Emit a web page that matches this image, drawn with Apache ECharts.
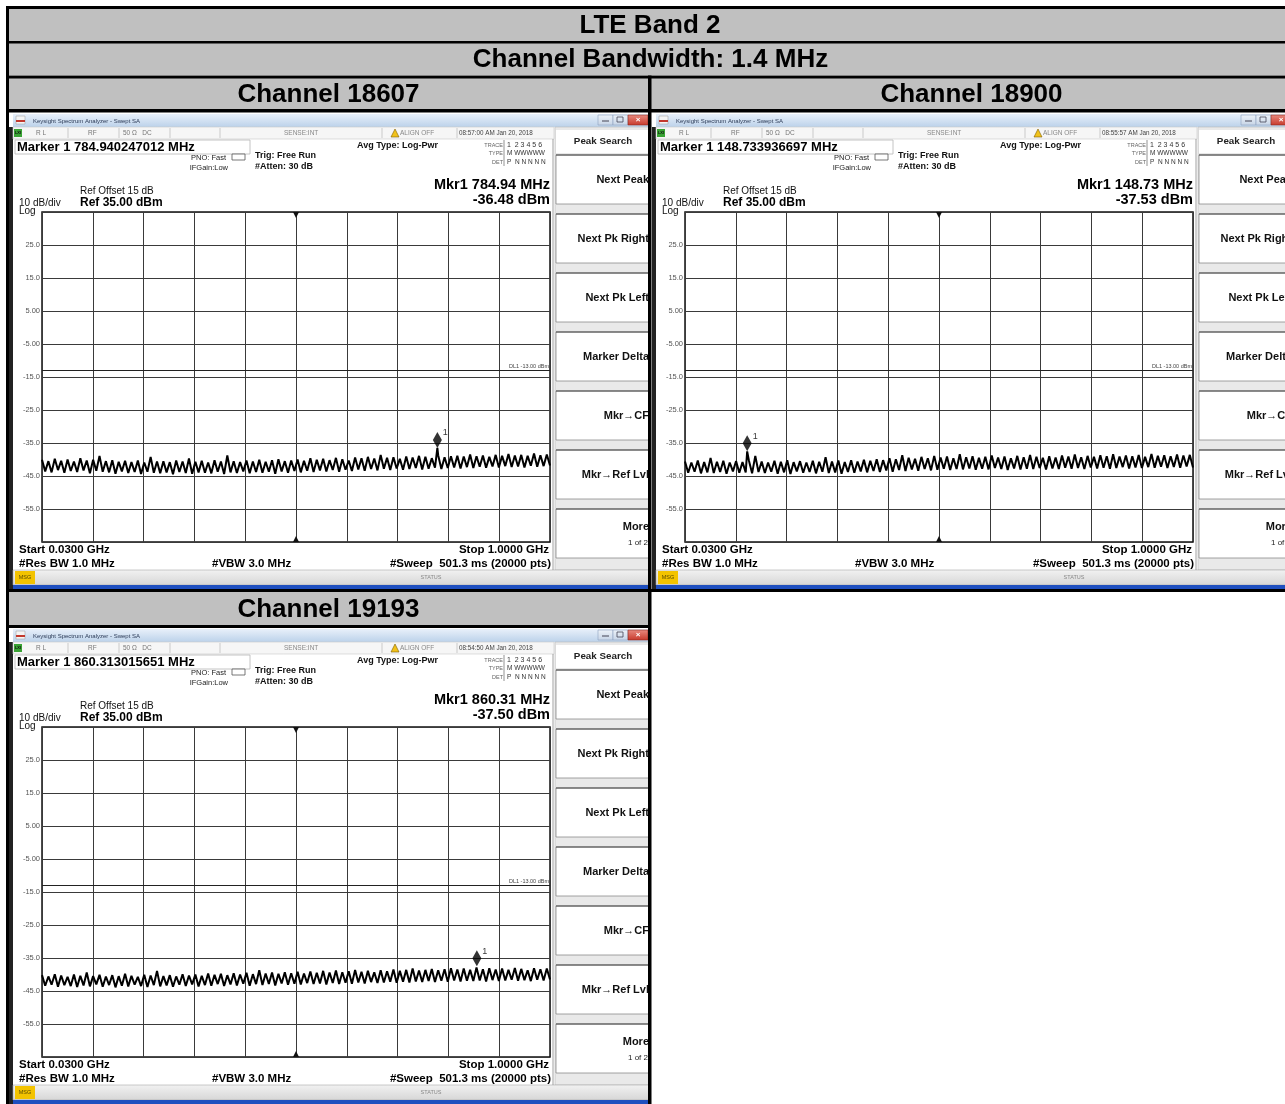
<!DOCTYPE html>
<html><head><meta charset="utf-8">
<script src="https://cdn.jsdelivr.net/npm/echarts@6/dist/echarts.min.js"></script>
<style>html,body{margin:0;padding:0;background:#fff}#c{width:1285px;height:1104px}</style>
</head><body><div id="c"></div><script>
// ---------------- data ----------------
const TITLE = 'LTE Band 2';
const SUBTITLE = 'Channel Bandwidth: 1.4 MHz';
const CHANNELS = ['18607', '18900', '19193'];
const F_START = 30, F_STOP = 1000;          // MHz
const REF = 35, DB_PER_DIV = 10, DIVS = 10; // dBm
const DISPLAY_LINE = -13.00;                // dBm
const Y_TICKS = ['25.0', '15.0', '5.00', '-5.00', '-15.0', '-25.0', '-35.0', '-45.0', '-55.0'];
const MKR_FREQ = [784.940247012, 148.733936697, 860.313015651];  // MHz
const MKR_LEVEL = [-36.48, -37.53, -37.50];                        // dBm
const TIMESTAMPS = ['08:57:00 AM Jan 20, 2018', '08:55:57 AM Jan 20, 2018', '08:54:50 AM Jan 20, 2018'];
const SOFTKEYS = ['Next Peak', 'Next Pk Right', 'Next Pk Left', 'Marker Delta', 'Mkr\u2192CF', 'Mkr\u2192Ref Lvl'];

const TRACE_18607 = [
 -40.1,-43.6,-40.5,-43.9,-39.8,-43.2,-40.4,-44.0,-40.0,-43.5,
 -40.6,-43.8,-39.6,-43.3,-40.3,-44.2,-40.1,-43.4,-38.9,-43.7,
 -40.5,-43.9,-40.2,-44.3,-40.7,-43.6,-40.4,-44.1,-40.8,-43.8,
 -40.3,-44.4,-40.9,-43.7,-39.2,-44.0,-40.6,-44.2,-40.5,-43.9,
 -40.8,-44.5,-40.3,-43.8,-40.6,-44.1,-39.7,-44.3,-40.7,-43.9,
 -40.4,-44.0,-40.9,-44.2,-40.2,-43.7,-40.6,-44.4,-38.8,-43.9,
 -40.5,-44.1,-40.8,-43.6,-40.3,-44.2,-40.6,-43.8,-40.1,-44.0,
 -40.7,-43.7,-40.2,-44.3,-39.9,-43.6,-40.5,-44.0,-40.3,-43.5,
 -40.0,-43.9,-40.4,-43.4,-39.6,-43.8,-40.1,-43.3,-39.8,-43.6,
 -40.2,-43.2,-39.5,-43.7,-39.9,-43.1,-40.3,-43.5,-39.4,-43.0,
 -39.6,-43.4,-39.2,-42.9,-39.7,-43.3,-38.6,-42.8,-39.5,-43.2,
 -39.3,-42.7,-39.8,-43.1,-39.1,-42.9,-39.4,-42.6,-38.9,-43.0,
 -39.2,-42.8,-39.6,-42.5,-38.7,-42.9,-39.3,-42.6,-39.0,-42.4,
 -38.9,-42.7,-39.1,-42.3,-38.5,-42.6,-39.0,-42.2,-38.8,-42.5,
 -39.2,-42.1,-38.6,-42.4,-38.9,-42.0,-38.3,-42.3,-38.8,-42.1,
 -38.6,-42.4,-38.9,-41.9,-38.2,-42.2,-38.7,-42.0,-38.5,-41.8
];
const TRACE_18900 = [
 -40.6,-44.0,-40.9,-43.7,-40.3,-44.2,-40.8,-43.9,-39.5,-44.1,
 -40.7,-43.8,-40.4,-44.3,-40.9,-43.6,-40.5,-44.0,-40.8,-43.9,
 -40.3,-44.2,-38.9,-43.8,-40.6,-44.1,-40.9,-43.7,-40.4,-44.3,
 -40.7,-43.9,-40.2,-44.4,-40.8,-43.6,-40.5,-44.0,-40.9,-43.8,
 -40.4,-44.2,-40.7,-43.7,-39.3,-44.1,-40.6,-43.9,-40.3,-44.3,
 -40.8,-43.8,-40.2,-44.0,-40.6,-43.6,-40.1,-43.9,-40.4,-43.5,
 -39.9,-43.8,-40.2,-43.3,-39.6,-43.7,-39.9,-43.2,-38.7,-43.5,
 -39.5,-43.0,-39.8,-43.4,-39.2,-42.9,-39.6,-43.3,-38.9,-43.1,
 -39.4,-42.8,-39.1,-43.2,-39.6,-42.9,-38.4,-43.0,-39.3,-42.7,
 -39.0,-43.1,-39.5,-42.8,-39.2,-43.0,-38.8,-42.6,-39.4,-42.9,
 -39.1,-43.2,-39.6,-42.7,-38.9,-43.0,-39.3,-42.8,-38.6,-42.9,
 -39.2,-42.6,-39.5,-43.0,-39.0,-42.7,-39.4,-42.9,-38.8,-42.5,
 -39.1,-42.8,-38.5,-42.6,-39.3,-42.9,-38.9,-42.4,-39.2,-42.7,
 -38.7,-42.5,-39.0,-42.8,-38.4,-42.6,-39.1,-42.3,-38.8,-42.7,
 -39.0,-42.4,-38.6,-42.6,-39.2,-42.3,-38.3,-42.5,-38.9,-42.2,
 -38.7,-42.6,-39.0,-42.3,-38.5,-42.5,-38.8,-42.1,-38.6,-42.4
];
const TRACE_19193 = [
 -40.2,-43.4,-40.6,-43.1,-39.9,-43.7,-40.3,-43.2,-40.7,-43.5,
 -40.0,-43.8,-40.4,-43.3,-39.4,-43.6,-40.5,-43.0,-40.1,-43.7,
 -40.6,-43.2,-40.2,-43.9,-40.5,-43.4,-39.8,-43.6,-40.4,-43.1,
 -40.7,-43.5,-40.1,-43.8,-40.3,-43.2,-38.9,-43.6,-40.5,-43.3,
 -40.2,-43.7,-40.6,-43.1,-39.9,-43.5,-40.3,-43.0,-40.0,-43.6,
 -40.4,-43.2,-39.7,-43.4,-40.1,-42.9,-39.8,-43.5,-40.2,-43.0,
 -39.6,-43.3,-40.0,-42.8,-39.5,-43.4,-39.9,-42.9,-38.7,-43.2,
 -39.7,-42.9,-39.4,-43.3,-39.8,-42.7,-39.3,-43.1,-39.6,-42.8,
 -39.2,-43.0,-39.7,-42.6,-39.1,-42.9,-39.5,-42.7,-38.9,-43.0,
 -39.4,-42.6,-38.8,-42.9,-39.3,-42.5,-39.0,-42.8,-38.6,-42.4,
 -39.2,-42.7,-38.9,-42.3,-39.3,-42.6,-38.7,-42.4,-39.0,-42.2,
 -38.5,-42.5,-38.9,-42.2,-38.6,-42.4,-38.2,-42.1,-38.8,-42.3,
 -38.6,-42.0,-38.3,-42.3,-38.7,-41.9,-38.4,-42.2,-38.1,-41.8,
 -38.5,-42.1,-38.2,-41.9,-38.6,-42.0,-37.9,-41.8,-38.4,-42.1,
 -38.1,-41.7,-38.5,-42.0,-38.2,-41.8,-38.6,-41.6,-38.0,-41.9,
 -38.3,-41.7,-38.7,-42.0,-38.1,-41.6,-38.4,-41.8,-38.2,-41.5
];
const TRACES = [TRACE_18607, TRACE_18900, TRACE_19193];

// ---------------- helpers ----------------
const FONT = '"Liberation Sans", Arial, Helvetica, sans-serif';
const BOTTOM = REF - DB_PER_DIV * DIVS;  // -65 dBm
const SPAN = F_STOP - F_START;
function T(x, y, text, size, o) {
  o = o || {};
  const al = o.align || 'left', va = o.va || 'middle';
  return {type: 'text', x: x, y: y, silent: true, z: o.z || 20,
    style: {text: text, fill: o.color || '#000', font: (o.bold ? 'bold ' : '') + size + 'px ' + FONT,
      textAlign: al, textVerticalAlign: va, align: al, verticalAlign: va}};
}
function R(x, y, w, h, fill, stroke, lw, z) {
  return {type: 'rect', silent: true, z: z == null ? 0 : z, shape: {x: x, y: y, width: w, height: h},
    style: {fill: fill || 'none', stroke: stroke || 'none', lineWidth: lw || 0}};
}
function L(x1, y1, x2, y2, color, lw, z) {
  return {type: 'line', silent: true, z: z == null ? 1 : z, shape: {x1: x1, y1: y1, x2: x2, y2: y2},
    style: {stroke: color || '#000', lineWidth: lw || 1}};
}
function P(points, fill, stroke, z) {
  return {type: 'polygon', silent: true, z: z == null ? 5 : z, shape: {points: points},
    style: {fill: fill, stroke: stroke || 'none', lineWidth: 0.6}};
}
const vgrad = (a, b) => ({type: 'linear', x: 0, y: 0, x2: 0, y2: 1, colorStops: [{offset: 0, color: a}, {offset: 1, color: b}]});

// offsets of the three analyzer screenshots
const OFFS = [[0, 0], [643, 0], [0, 515]];

function panel(k) {
  const dx = OFFS[k][0], dy = OFFS[k][1];
  const X = v => v + dx, Y = v => v + dy;
  const g = [];
  // window frame
  g.push(R(X(9), Y(127), 4, 462, '#222', null, 0, 1));
  // title bar
  g.push(R(X(13), Y(114), 636, 13, vgrad('#e8f0fa', '#bcd2ea'), null, 0, 1));
  g.push(R(X(16), Y(116), 9, 8, '#f4f4f4', '#999', 0.5, 2));
  g.push(R(X(16), Y(120), 9, 2, '#c23a2e', null, 0, 3));
  g.push(T(X(33), Y(121), 'Keysight Spectrum Analyzer - Swept SA', 6, {color: '#2c3b57'}));
  g.push(R(X(598), Y(115), 15, 10, vgrad('#eef3f9', '#c6d4e6'), '#8ea3bf', 0.6, 2));
  g.push(L(X(602), Y(121), X(609), Y(121), '#445', 1, 3));
  g.push(R(X(613), Y(115), 15, 10, vgrad('#eef3f9', '#c6d4e6'), '#8ea3bf', 0.6, 2));
  g.push(R(X(617), Y(117), 6, 5, 'none', '#445', 0.8, 3));
  g.push(R(X(628), Y(115), 20, 10, vgrad('#e88a7f', '#c7392b'), '#8a2a20', 0.6, 2));
  g.push(T(X(638), Y(120), '\u00d7', 8, {align: 'center', color: '#fff', bold: true}));
  // status row
  g.push(R(X(13), Y(127), 541, 12, '#f6f6f6', '#c9c9c9', 0.6, 1));
  g.push(R(X(14), Y(129), 8, 8, '#39a334', null, 0, 2));
  g.push(T(X(18), Y(133), 'LXI', 4, {align: 'center', color: '#111', bold: true}));
  [68, 119, 170, 220, 382, 457].forEach(x => g.push(L(X(x), Y(128), X(x), Y(138), '#c0c0c0', 0.8, 2)));
  g.push(T(X(36), Y(133), 'R L', 6.5, {color: '#777'}));
  g.push(T(X(88), Y(133), 'RF', 6.5, {color: '#777'}));
  g.push(T(X(123), Y(133), '50 \u03a9   DC', 6.5, {color: '#777'}));
  g.push(T(X(284), Y(133), 'SENSE:INT', 6.5, {color: '#888'}));
  g.push(P([[X(391), Y(137)], [X(395), Y(129)], [X(399), Y(137)]], '#f1c21b', '#7d5c00'));
  g.push(T(X(400), Y(133), 'ALIGN OFF', 6.5, {color: '#888'}));
  g.push(T(X(459), Y(133), TIMESTAMPS[k], 6.3, {color: '#444'}));
  // marker frequency box
  g.push(R(X(15), Y(140), 235, 14, '#fff', '#b5b5b5', 0.8, 1));
  g.push(T(X(17), Y(147.5), 'Marker 1 ' + MKR_FREQ[k].toFixed(9) + ' MHz', 13, {bold: true}));
  g.push(T(X(226), Y(158), 'PNO: Fast', 7.5, {align: 'right', color: '#222'}));
  g.push(T(X(228), Y(168), 'IFGain:Low', 7.5, {align: 'right', color: '#222'}));
  g.push(R(X(232), Y(154), 13, 6, '#fff', '#555', 0.8, 2));
  g.push(T(X(255), Y(156), 'Trig: Free Run', 9, {bold: true, color: '#111'}));
  g.push(T(X(255), Y(167), '#Atten: 30 dB', 9, {bold: true, color: '#111'}));
  g.push(T(X(357), Y(146), 'Avg Type: Log-Pwr', 9, {bold: true, color: '#111'}));
  // trace table
  g.push(L(X(504), Y(140), X(504), Y(166), '#777', 0.8, 2));
  g.push(T(X(503), Y(145), 'TRACE', 5.5, {align: 'right', color: '#666'}));
  g.push(T(X(503), Y(153), 'TYPE', 5.5, {align: 'right', color: '#666'}));
  g.push(T(X(503), Y(162), 'DET', 5.5, {align: 'right', color: '#666'}));
  g.push(T(X(507), Y(145.5), '1  2 3 4 5 6', 7, {color: '#333'}));
  g.push(T(X(507), Y(153.5), 'M WWWWW', 6.5, {color: '#333'}));
  g.push(T(X(507), Y(162), 'P  N N N N N', 6.5, {color: '#333'}));
  // marker readout
  g.push(T(X(550), Y(185), 'Mkr1 ' + MKR_FREQ[k].toFixed(2) + ' MHz', 14.5, {align: 'right', bold: true}));
  g.push(T(X(550), Y(199.5), MKR_LEVEL[k].toFixed(2) + ' dBm', 14.5, {align: 'right', bold: true}));
  g.push(T(X(80), Y(191.5), 'Ref Offset 15 dB', 10, {color: '#111'}));
  g.push(T(X(80), Y(202.5), 'Ref ' + REF.toFixed(2) + ' dBm', 12, {bold: true}));
  g.push(T(X(19), Y(203.5), DB_PER_DIV + ' dB/div', 10, {color: '#111'}));
  g.push(T(X(19), Y(211), 'Log', 10, {color: '#111'}));
  // main display right border
  g.push(L(X(553), Y(139), X(553), Y(570), '#888', 0.8, 2));
  // bottom annotations
  g.push(T(X(19), Y(550), 'Start ' + (F_START / 1000).toFixed(4) + ' GHz', 11.5, {bold: true}));
  g.push(T(X(549), Y(550), 'Stop ' + (F_STOP / 1000).toFixed(4) + ' GHz', 11.5, {bold: true, align: 'right'}));
  g.push(T(X(19), Y(564), '#Res BW 1.0 MHz', 11.5, {bold: true}));
  g.push(T(X(212), Y(564), '#VBW 3.0 MHz', 11.5, {bold: true}));
  g.push(T(X(551), Y(564), '#Sweep  501.3 ms (20000 pts)', 11.5, {bold: true, align: 'right'}));
  // softkey panel
  g.push(R(X(555), Y(127), 94, 443, '#e9e9e9', '#bbb', 0.6, 1));
  g.push(R(X(556), Y(130), 93, 23, '#fff', null, 0, 2));
  g.push(T(X(603), Y(141.5), 'Peak Search', 9.8, {align: 'center', bold: true, color: '#222'}));
  const tops = [155, 214, 273, 332, 391, 450, 509];
  tops.forEach((t, i) => {
    g.push(R(X(556), Y(t), 93, 49, '#fff', '#8a8a8a', 0.8, 2));
    g.push(L(X(556), Y(t), X(649), Y(t), '#444', 1, 3));
    if (i < SOFTKEYS.length) g.push(T(X(649), Y(t + 25), SOFTKEYS[i], 11, {align: 'right', bold: true, color: '#111'}));
  });
  g.push(T(X(649), Y(527), 'More', 11, {align: 'right', bold: true, color: '#111'}));
  g.push(T(X(648), Y(542.5), '1 of 2', 8, {align: 'right', color: '#222'}));
  // status bar
  g.push(R(X(13), Y(570), 636, 15, vgrad('#f2f2f2', '#d6d6d6'), '#aaa', 0.6, 1));
  g.push(R(X(15), Y(571), 20, 13, '#f3c300', null, 0, 2));
  g.push(T(X(25), Y(577.5), 'MSG', 5.5, {align: 'center', color: '#5a4a00'}));
  g.push(T(X(431), Y(577.5), 'STATUS', 5.5, {align: 'center', color: '#888'}));
  g.push(R(X(13), Y(585), 636, 4, '#1f4fbf', null, 0, 2));
  return g;
}

// table chrome
function table() {
  const g = [];
  const grey = '#c0c0c0';
  g.push(R(9, 9, 1290, 32, grey, null, 0, 0));
  g.push(R(9, 43, 1290, 32, grey, null, 0, 0));
  g.push(R(9, 78, 639, 31, grey, null, 0, 0));
  g.push(R(651, 78, 650, 31, grey, null, 0, 0));
  g.push(R(9, 592, 639, 33, grey, null, 0, 0));
  // black rules
  const B = '#000';
  g.push(R(6, 6, 1290, 3, B, null, 0, 40));
  g.push(R(6, 41, 1290, 2.5, B, null, 0, 40));
  g.push(R(6, 75.5, 1290, 3, B, null, 0, 40));
  g.push(R(6, 109, 1290, 3.5, B, null, 0, 40));
  g.push(R(6, 589, 1290, 3, B, null, 0, 40));
  g.push(R(6, 625, 645, 3, B, null, 0, 40));
  g.push(R(6, 6, 3, 1098, B, null, 0, 40));
  g.push(R(648, 75.5, 3.5, 1030, B, null, 0, 40));
  // header text
  g.push(T(650, 25.5, TITLE, 26, {align: 'center', bold: true, z: 45}));
  g.push(T(650.5, 60, SUBTITLE, 26, {align: 'center', bold: true, z: 45}));
  g.push(T(328.5, 95, 'Channel ' + CHANNELS[0], 26, {align: 'center', bold: true, z: 45}));
  g.push(T(971.5, 95, 'Channel ' + CHANNELS[1], 26, {align: 'center', bold: true, z: 45}));
  g.push(T(328.5, 610, 'Channel ' + CHANNELS[2], 26, {align: 'center', bold: true, z: 45}));
  return g;
}

// ---------------- chart ----------------
const grids = [], xAxes = [], yAxes = [], series = [];
const xOf = f => f - F_START;      // axis position from start frequency
const yOf = v => v - BOTTOM;       // axis position from bottom reference
const CENTER = (F_START + F_STOP) / 2;
for (let k = 0; k < 3; k++) {
  const dx = OFFS[k][0], dy = OFFS[k][1];
  grids.push({left: 42 + dx, top: 212 + dy, width: 508, height: 330, show: true,
    backgroundColor: '#fff', borderColor: '#111', borderWidth: 1.5, z: 2});
  xAxes.push({type: 'value', gridIndex: k, min: 0, max: SPAN, interval: SPAN / DIVS, z: 3,
    axisLine: {show: false}, axisTick: {show: false}, axisLabel: {show: false},
    splitLine: {show: true, lineStyle: {color: '#3a3a3a', width: 1}}});
  yAxes.push({type: 'value', gridIndex: k, min: 0, max: DB_PER_DIV * DIVS, interval: DB_PER_DIV, z: 3,
    axisLine: {show: false}, axisTick: {show: false},
    axisLabel: {show: true, margin: 2, fontSize: 7.5, color: '#555', fontFamily: FONT,
      formatter: v => (v > 0 && v < DB_PER_DIV * DIVS) ? Y_TICKS[Math.round((DB_PER_DIV * (DIVS - 1) - v) / DB_PER_DIV)] : ''},
    splitLine: {show: true, lineStyle: {color: '#3a3a3a', width: 1}}});
  const tr = TRACES[k];
  const n = tr.length;
  const pts = tr.map((v, i) => [i * SPAN / (n - 1), yOf(v)]);
  pts.push([xOf(MKR_FREQ[k]), yOf(MKR_LEVEL[k])]);
  pts.sort((a, b) => a[0] - b[0]);
  series.push({type: 'line', xAxisIndex: k, yAxisIndex: k, data: pts, showSymbol: false, z: 6,
    lineStyle: {color: '#000', width: 2}, animation: false, silent: true,
    markLine: {silent: true, symbol: 'none', animation: false,
      lineStyle: {color: '#222', width: 1, type: 'solid'},
      label: {show: true, position: 'insideEndTop', formatter: 'DL1 ' + DISPLAY_LINE.toFixed(2) + ' dBm',
        fontSize: 5.5, color: '#444', distance: [1, 1], fontFamily: FONT},
      data: [{yAxis: yOf(DISPLAY_LINE)}]},
    markPoint: {silent: true, animation: false, label: {show: false},
      itemStyle: {color: '#111'},
      data: [
        {coord: [xOf(CENTER), DB_PER_DIV * DIVS], symbol: 'triangle', symbolRotate: 180, symbolSize: [6, 6], symbolOffset: [0, 3]},
        {coord: [xOf(CENTER), 0], symbol: 'triangle', symbolSize: [6, 6], symbolOffset: [0, -3]}
      ]}
  });
  series.push({type: 'scatter', xAxisIndex: k, yAxisIndex: k, z: 8, animation: false, silent: true,
    data: [[xOf(MKR_FREQ[k]), yOf(MKR_LEVEL[k])]],
    symbol: 'diamond', symbolSize: [9, 16], symbolOffset: [0, -8],
    itemStyle: {color: '#000'},
    label: {show: true, formatter: '1', position: 'right', distance: 1, offset: [0, -7],
      fontSize: 9, color: '#000', fontFamily: FONT}});
}

const graphics = table().concat(panel(0), panel(1), panel(2));
const chart = echarts.init(document.getElementById('c'), null, {renderer: 'canvas', width: 1285, height: 1104});
chart.setOption({
  animation: false,
  backgroundColor: '#fff',
  grid: grids, xAxis: xAxes, yAxis: yAxes, series: series,
  graphic: {elements: graphics}
});
</script></body></html>
